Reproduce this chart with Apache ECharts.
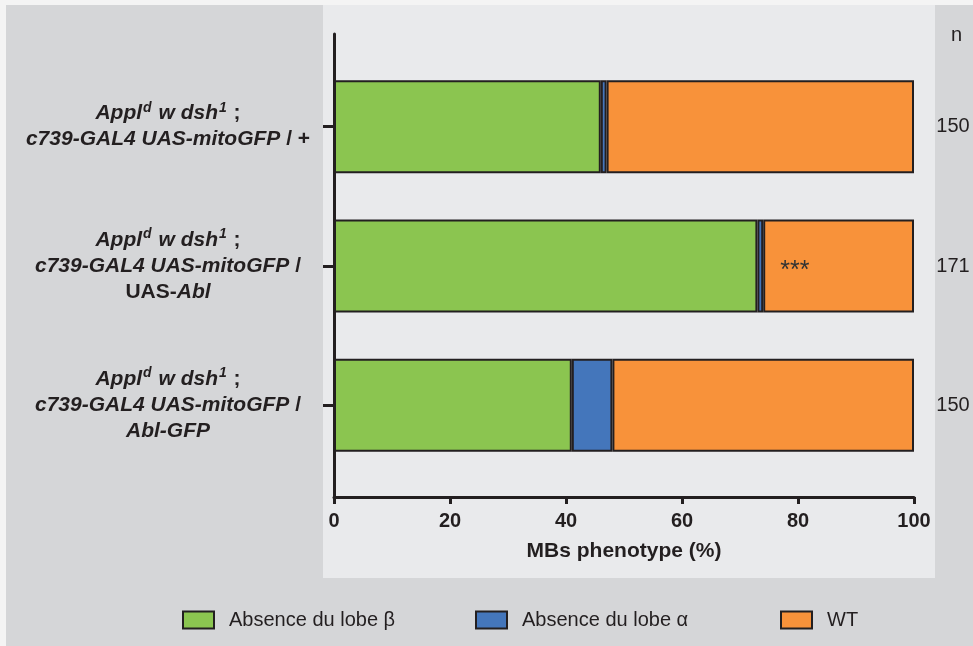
<!DOCTYPE html>
<html>
<head>
<meta charset="utf-8">
<script src="https://cdn.jsdelivr.net/npm/echarts@6/dist/echarts.min.js"></script>
<style>html,body{margin:0;padding:0;background:#f4f4f4}#c{width:973px;height:646px}</style>
</head>
<body>
<div id="c"></div>
<script>
const categories = ['+', 'UAS-Abl', 'Abl-GFP'];
const seriesNames = ['Absence du lobe β', 'Absence du lobe α', 'WT'];
const absenceBeta = [46, 73, 41];
const absenceAlpha = [1, 1, 7];
const wildType = [53, 26, 52];
const nValues = ['150', '171', '150'];
const significance = ['', '***', ''];
const xTicks = [0, 20, 40, 60, 80, 100];

const TXT = '#231f20';
const FONT = '"Liberation Sans", Arial, Helvetica, sans-serif';
const colors = ['#8bc550', '#4476bb', '#f8923a'];

function genotypeLabel(cat) {
  const l1 = '{i|Appl}{sup|d}{i| w dsh}{sup|1}{b| ;}';
  if (cat === '+') return l1 + '\n{i|c739-GAL4 UAS-mitoGFP}{b| / +}';
  if (cat === 'UAS-Abl') return l1 + '\n{i|c739-GAL4 UAS-mitoGFP}{b| /}\n{b|UAS-}{i|Abl}';
  return l1 + '\n{i|c739-GAL4 UAS-mitoGFP}{b| /}\n{i|' + cat + '}';
}

const chart = echarts.init(document.getElementById('c'));
const barStyle = (i) => ({ color: colors[i], borderColor: TXT, borderWidth: 2 });
const legendBase = { top: 605, itemWidth: 31, itemHeight: 17, icon: 'rect',
  textStyle: { fontSize: 20, color: TXT, fontFamily: FONT, padding: [0, 0, 0, 10] } };

chart.setOption({
  backgroundColor: '#f4f4f4',
  animation: false,
  textStyle: { fontFamily: FONT },
  graphic: [
    { type: 'rect', z: -10, shape: { x: 6, y: 5, width: 967, height: 641 }, style: { fill: '#d5d6d8' } },
    { type: 'rect', z: -9, shape: { x: 323, y: 5, width: 612, height: 573 }, style: { fill: '#e9eaec' } }
  ],
  title: { text: 'n', left: 946, top: 20, textStyle: { fontSize: 20, fontWeight: 'normal', color: TXT, fontFamily: FONT } },
  legend: [
    Object.assign({ data: [seriesNames[0]], left: 177 }, legendBase),
    Object.assign({ data: [seriesNames[1]], left: 470 }, legendBase),
    Object.assign({ data: [seriesNames[2]], left: 775 }, legendBase)
  ],
  grid: [
    { left: 334, width: 580, top: 57, height: 418 },
    { left: 334, width: 580, top: 34, height: 463 }
  ],
  xAxis: [
    { type: 'value', gridIndex: 0, min: xTicks[0], max: xTicks[xTicks.length - 1], interval: xTicks[1] - xTicks[0],
      offset: 22,
      axisLine: { show: true, onZero: false, lineStyle: { color: TXT, width: 3 } },
      axisTick: { show: true, length: 7, lineStyle: { color: TXT, width: 3 } },
      axisLabel: { fontSize: 20, fontWeight: 'bold', color: TXT, margin: 14, fontFamily: FONT },
      splitLine: { show: false },
      name: 'MBs phenotype (%)', nameLocation: 'middle', nameGap: 44,
      nameTextStyle: { fontSize: 21, fontWeight: 'bold', color: TXT, fontFamily: FONT } },
    { type: 'value', gridIndex: 1, show: false, min: 0, max: 100 }
  ],
  yAxis: [
    { type: 'category', gridIndex: 0, data: categories, inverse: true,
      axisLine: { show: false },
      axisTick: { show: true, length: 11, alignWithLabel: true, lineStyle: { color: TXT, width: 3 } },
      axisLabel: {
        align: 'center', margin: 166, color: TXT,
        formatter: (v) => genotypeLabel(v),
        rich: {
          i: { fontSize: 21, fontWeight: 'bold', fontStyle: 'italic', color: TXT, fontFamily: FONT, lineHeight: 26 },
          b: { fontSize: 21, fontWeight: 'bold', color: TXT, fontFamily: FONT, lineHeight: 26 },
          sup: { fontSize: 14, fontWeight: 'bold', fontStyle: 'italic', color: TXT, fontFamily: FONT, verticalAlign: 'top', lineHeight: 16, padding: [0, 1, 0, 1] }
        }
      } },
    { type: 'category', gridIndex: 0, data: categories, inverse: true, position: 'right',
      axisLine: { show: false }, axisTick: { show: false },
      axisLabel: { align: 'center', margin: 39, fontSize: 20, color: TXT, fontFamily: FONT,
        formatter: (v, idx) => nValues[idx] } },
    { type: 'value', gridIndex: 1, min: 0, max: 1,
      axisLine: { show: true, onZero: false, lineStyle: { color: TXT, width: 3 } },
      axisTick: { show: false }, axisLabel: { show: false }, splitLine: { show: false } }
  ],
  series: [
    { name: seriesNames[0], type: 'bar', stack: 'all', xAxisIndex: 0, yAxisIndex: 0, barWidth: 93,
      itemStyle: barStyle(0), data: absenceBeta },
    { name: seriesNames[1], type: 'bar', stack: 'all', xAxisIndex: 0, yAxisIndex: 0, barWidth: 93,
      itemStyle: barStyle(1), data: absenceAlpha },
    { name: seriesNames[2], type: 'bar', stack: 'all', xAxisIndex: 0, yAxisIndex: 0, barWidth: 93,
      itemStyle: barStyle(2), data: wildType,
      label: { show: true, position: 'insideLeft', distance: 17, offset: [0, 5],
        fontSize: 25, color: '#333', fontFamily: FONT,
        formatter: (p) => significance[p.dataIndex] } }
  ]
});
</script>
</body>
</html>
